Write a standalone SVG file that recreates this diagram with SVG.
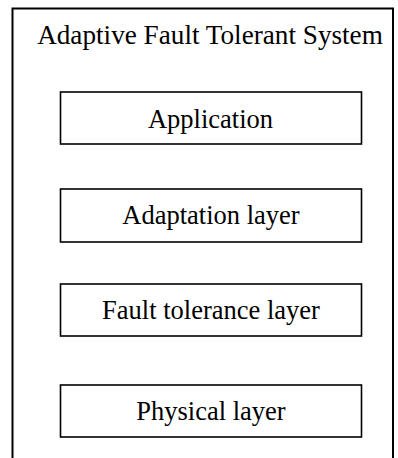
<svg xmlns="http://www.w3.org/2000/svg" width="398" height="458" viewBox="0 0 398 458">
<style>
.box{fill:#fff;stroke:#000;stroke-width:1.6}
.t{font-family:"Liberation Serif","Times New Roman",serif;font-size:26.5px;fill:#000;text-anchor:middle}
</style>
<rect width="398" height="458" fill="#fff"/>
<g id="system">
<rect x="12.5" y="8.5" width="380.5" height="460" fill="none" stroke="#000" stroke-width="2"/>
<text class="t" x="210" y="44" style="font-size:27.2px">Adaptive Fault Tolerant System</text>
</g>
<g id="application">
<rect class="box" x="60.5" y="92" width="301" height="52"/>
<text class="t" x="210.5" y="127.5">Application</text>
</g>
<g id="adaptation">
<rect class="box" x="60.5" y="189" width="301" height="53"/>
<text class="t" x="211" y="224">Adaptation layer</text>
</g>
<g id="fault">
<rect class="box" x="60.5" y="284" width="301" height="52"/>
<text class="t" x="211" y="318.5">Fault tolerance layer</text>
</g>
<g id="physical">
<rect class="box" x="60.5" y="385" width="301" height="52"/>
<text class="t" x="211" y="420">Physical layer</text>
</g>
<g id="connectors"></g>
</svg>
